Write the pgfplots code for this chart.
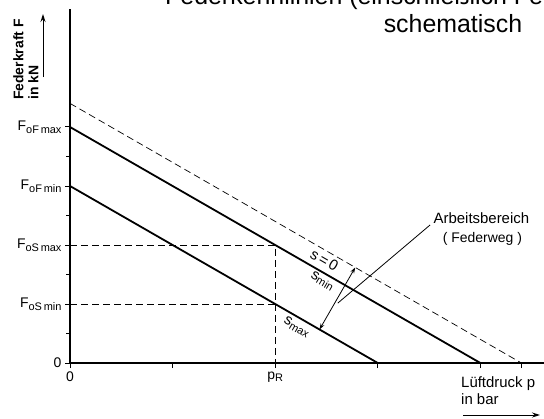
\documentclass[border=0pt]{standalone}
\usepackage{pgfplots}
\pgfplotsset{compat=1.18}
\usepackage{fontspec}
\setmainfont{Liberation Sans}
\usetikzlibrary{arrows.meta}
\newcommand{\lbl}[2]{F\raisebox{-0.35ex}{\fontsize{11}{11}\selectfont #1\,#2}}
\begin{document}
\begin{tikzpicture}[x=1bp,y=1bp]
\useasboundingbox (0,0) rectangle (544,418);
\clip (0,0) rectangle (544,418);
\begin{axis}[
  at={(70bp,55bp)}, anchor=origin,
  scale only axis, width=474bp, height=354bp,
  xmin=0, xmax=4.62, ymin=0, ymax=12,
  axis lines=left,
  axis line style={-, line width=1.6bp},
  clip=false,
  tick align=outside,
  major tick length=5bp, minor tick length=4bp,
  tick style={line width=1bp, black},
  xtick={0,1,2,3,4,4.4},
  xticklabels={0,,p\raisebox{-0.4ex}{\fontsize{11}{11}\selectfont R},,,},
  ytick={0,2,4,6,8},
  yticklabels={0,\lbl{oS}{min},\lbl{oS}{max},\lbl{oF}{min},\lbl{oF}{max}},
  minor ytick={1,3,5,7},
  tick label style={font=\fontsize{14}{16}\selectfont},
  /pgf/number format/assume math mode=true,
]
\addplot[black, line width=1.8bp] coordinates {(0,6) (3,0)};
\addplot[black, line width=1.8bp] coordinates {(0,8) (4,0)};
\addplot[black, line width=0.7bp, dash pattern=on 7bp off 4bp] coordinates {(0,8.8) (4.4,0)};
\addplot[black, line width=0.9bp, dash pattern=on 7bp off 4bp] coordinates {(0,4) (2,4) (2,0)};
\addplot[black, line width=0.9bp, dash pattern=on 7bp off 4bp] coordinates {(0,2) (2,2)};
% annotations
\node[rotate=-30, font=\fontsize{15}{16}\selectfont] at (axis cs:2.48,3.49) {s\,=\,0};
\node[rotate=-30, font=\fontsize{15}{16}\selectfont] at (axis cs:2.46,2.78) {s\raisebox{-0.3ex}{\fontsize{11}{11}\selectfont min}};
\node[rotate=-30, font=\fontsize{15}{16}\selectfont] at (axis cs:2.21,1.22) {s\raisebox{-0.3ex}{\fontsize{11}{11}\selectfont max}};
\draw[{Stealth[length=6bp,width=4bp]}-{Stealth[length=6bp,width=4bp]}, line width=0.8bp] (axis cs:2.78,3.24) -- (axis cs:2.432,1.136);
\draw[line width=0.8bp] (axis cs:3.51,4.68) -- (axis cs:2.61,2.03);
\node[anchor=west, font=\fontsize{15}{16}\selectfont] at (axis cs:3.51,4.9) {Arbeitsbereich};
\node[anchor=west, font=\fontsize{14}{16}\selectfont] at (axis cs:3.60,4.22) {( Federweg )};
\end{axis}
% title
\node[anchor=base west, inner sep=0pt, font=\fontsize{25}{28}\selectfont] at (165,413) {Federkennlinien (einschließlich Federweg)};
\node[anchor=base, inner sep=0pt, font=\fontsize{25}{28}\selectfont] at (453,386) {schematisch};
% axis labels
\node[rotate=90, anchor=north west, align=left, inner sep=0pt, font=\fontsize{14}{15}\selectfont\bfseries] at (13,318) {Federkraft F\\in kN};
\draw[-{Stealth[length=8bp,width=5bp]}, line width=1bp] (43,341) -- (43,404);
\node[anchor=west, align=left, inner sep=0pt, font=\fontsize{15}{17}\selectfont] at (461,27) {Lüftdruck p\\in bar};
\draw[-{Stealth[length=8bp,width=5bp]}, line width=1bp] (463,3) -- (540,3);
\end{tikzpicture}
\end{document}
